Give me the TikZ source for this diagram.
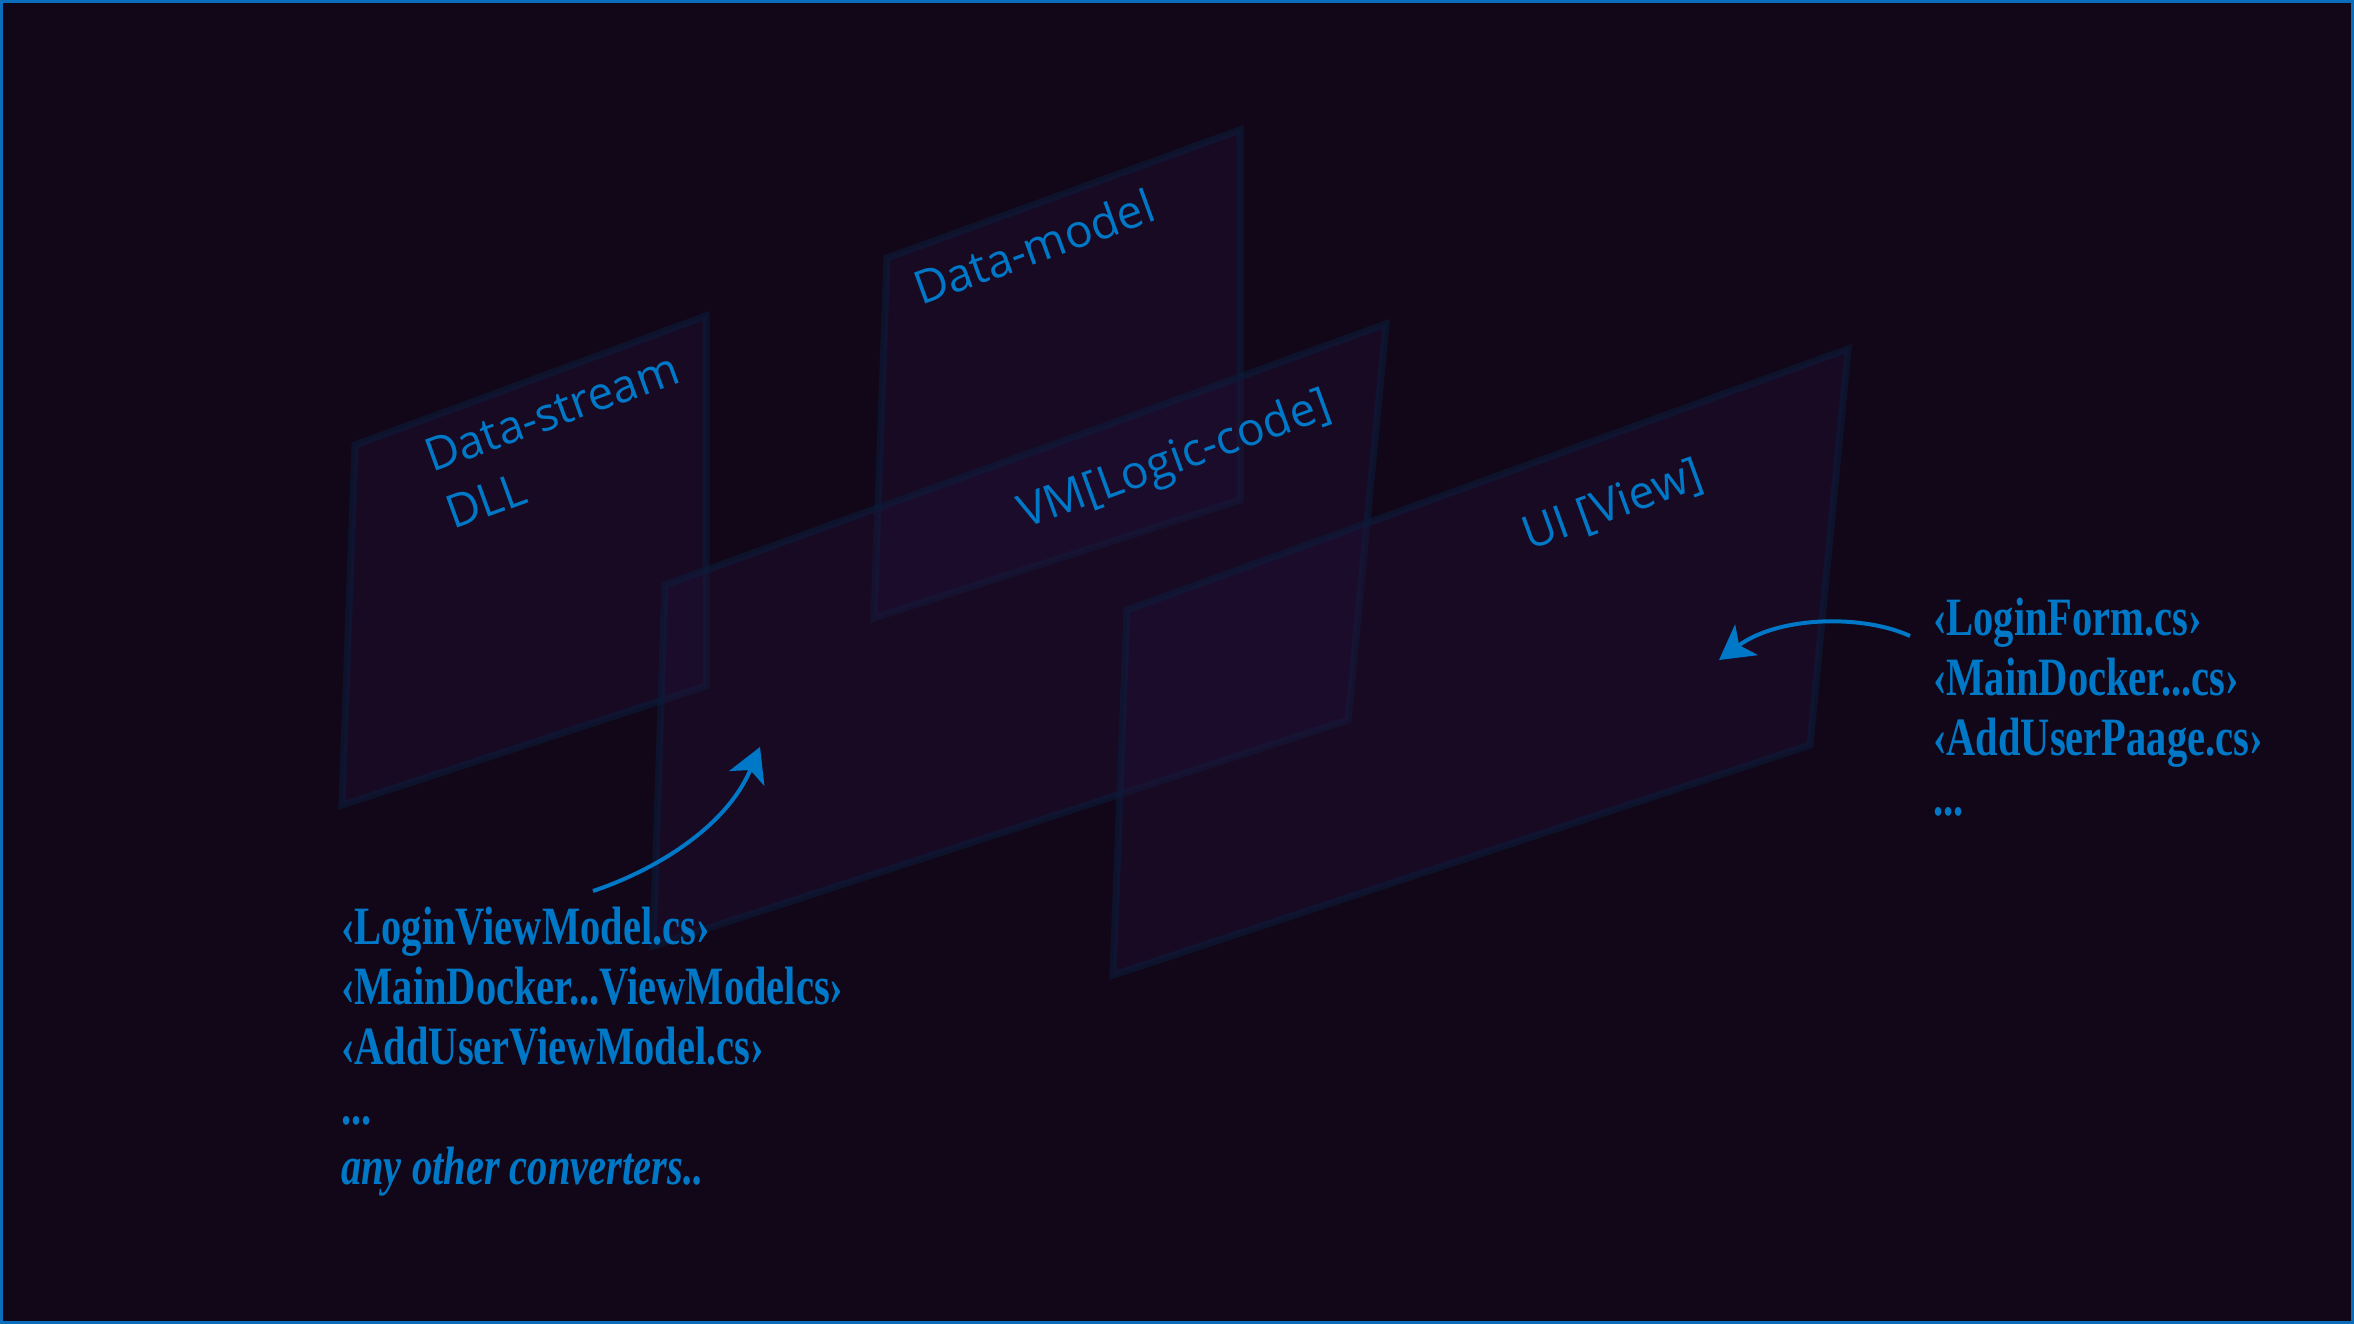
\documentclass[tikz,border=0pt]{standalone}
\usepackage{fontspec}
\usetikzlibrary{arrows.meta}

\newfontfamily\panelfont{Open Sans}
\newfontfamily\listfont[FakeStretch=0.75]{Liberation Serif}

\definecolor{bgdark}{HTML}{120718}
\definecolor{paneltint}{HTML}{26123A}
\definecolor{paneledge}{HTML}{0A1E3C}
\definecolor{labelblue}{HTML}{0078C8}
\definecolor{frameblue}{HTML}{0A6EBD}

\begin{document}
\begin{tikzpicture}[
    x=1pt, y=-1pt,
    panel/.style={fill=paneltint, fill opacity=0.35, draw=paneledge, draw opacity=0.55, line width=7pt},
    layer/.style={rotate=20, anchor=base west, inner sep=0pt, text=labelblue, align=left, font=\panelfont\fontsize{46}{61}\selectfont},
    files/.style={anchor=base west, inner sep=0pt, text=labelblue, align=left, font=\listfont\bfseries\fontsize{54}{60}\selectfont},
    pointer/.style={-{Stealth[length=34pt, width=38pt, inset=9pt]}, line width=4pt, draw=labelblue}
  ]

  % Background and frame
  \fill[bgdark] (0,0) rectangle (2354,1324);
  \useasboundingbox (0,0) rectangle (2354,1324);
  \draw[frameblue, line width=3pt] (1.5,1.5) rectangle (2352.5,1322.5);

  % Layer panels (back to front)
  \foreach \tl/\tr/\br/\bl in {
      {(355,445)}/{(706,316)}/{(706,686)}/{(342,805)},
      {(887,258)}/{(1240,130)}/{(1240,500)}/{(874,618)},
      {(665,585)}/{(1386,324)}/{(1348,720)}/{(653,946)},
      {(1127,610)}/{(1848,349)}/{(1810,745)}/{(1113,975)}} {
      \draw[panel] \tl -- \tr -- \br -- \bl -- cycle;
    }

  % Layer titles (anchored at the last line's baseline)
  \node[layer] (dslabel) at (453,530) {Data-stream\\DLL};
  \node[layer] (dmlabel) at (921,306) {Data-model};
  \node[layer] (vmlabel) at (1025,529) {VM[Logic-code]};
  \node[layer] (uilabel) at (1529,551) {UI [View]};

  % File lists (anchored at the last line's baseline)
  \node[files] (vmfiles) at (341,1184) {‹LoginViewModel.cs›\\‹MainDocker...ViewModelcs›\\‹AddUserViewModel.cs›\\...\\\itshape any other converters..};
  \node[files] (uifiles) at (1933,815) {‹LoginForm.cs›\\‹MainDocker...cs›\\‹AddUserPaage.cs›\\...};

  % Pointers into the layers
  \coordinate (vmfrom) at (593,891);
  \coordinate (vmto) at (760,747);
  \coordinate (uifrom) at (1910,636);
  \coordinate (uito) at (1719,660);
  \draw[pointer] (vmfrom) .. controls (650,872) and (725,830) .. (vmto);
  \draw[pointer] (uifrom) .. controls (1865,615) and (1780,615) .. (uito);

\end{tikzpicture}
\end{document}
